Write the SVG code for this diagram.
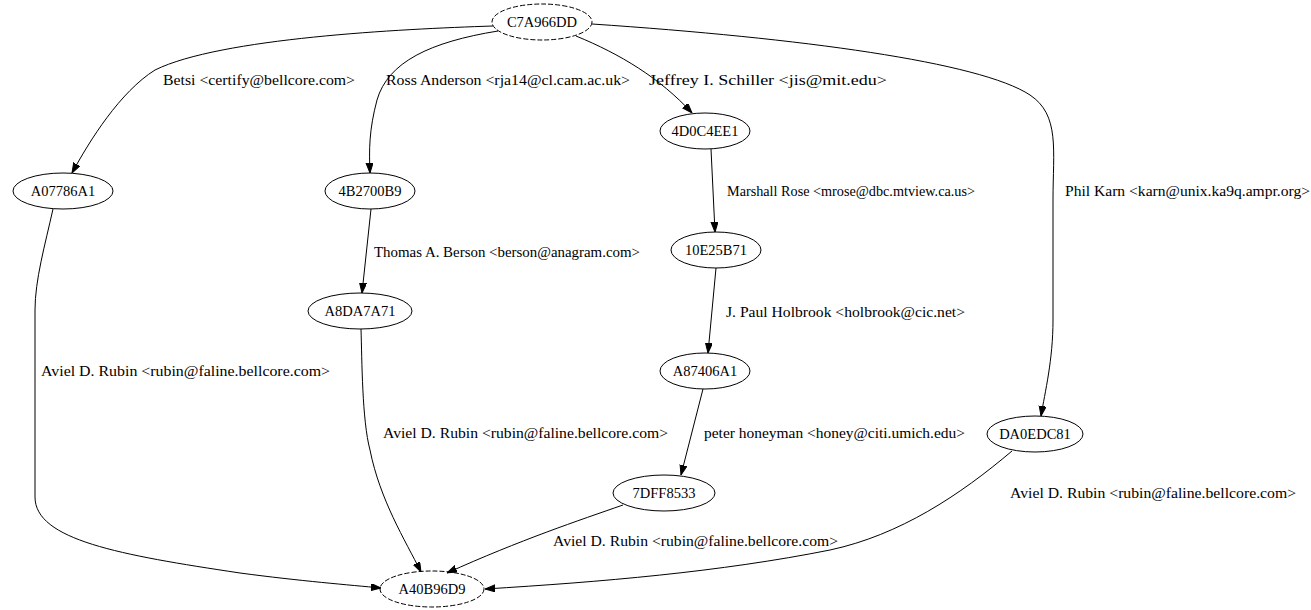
<svg xmlns="http://www.w3.org/2000/svg" width="1311" height="610" viewBox="0 0 1311 610" font-family="'Liberation Serif', 'Times New Roman', serif">
<style>
.n ellipse{fill:none;stroke:#000;stroke-width:1}
.d ellipse{stroke-dasharray:5,2}
text{font-family:'Liberation Serif','Times New Roman',serif;font-size:14.5px;fill:#000}
.n text{text-anchor:middle}
.e path{fill:none;stroke:#000;stroke-width:1;marker-end:url(#ah)}
</style>
<defs>
<marker id="ah" markerUnits="userSpaceOnUse" markerWidth="10" markerHeight="8" refX="10" refY="3.5" orient="auto">
<path d="M0,0 L10,3.5 L0,7 z" fill="#000" stroke="#000" stroke-width="1"/>
</marker>
</defs>
<rect width="1311" height="610" fill="#fff"/>
<g id="edges" class="e">
<path d="M493,26 C400,29 220,38 155,70 C120,92 90,140 72,173"/>
<path d="M498,31 C430,42 388,62 377,100 C369,130 369,150 370,173"/>
<path d="M576,36 C620,54 660,78 692,113"/>
<path d="M592,24 C800,38 980,62 1030,95 C1060,115 1053,150 1053,200 L1053,320 C1053,360 1045,392 1041,416"/>
<path d="M711,149 L715,232"/>
<path d="M371,209 L362,293"/>
<path d="M716,268 L708,353"/>
<path d="M703,389 L681,475"/>
<path d="M53,209 C45,245 35,280 35,310 L35,497 C35,540 120,555 240,573 C300,581 350,585 381,588"/>
<path d="M361,329 C362,360 362,420 370,450 C380,500 405,540 421,572"/>
<path d="M623,505 C580,520 520,540 447,573"/>
<path d="M1012,451 C960,495 900,535 830,550 C720,572 600,582 485,589"/>
</g>
<g id="labels">
<text x="163" y="85" textLength="192" lengthAdjust="spacingAndGlyphs">Betsi &lt;certify@bellcore.com&gt;</text>
<text x="386" y="85" textLength="244" lengthAdjust="spacingAndGlyphs">Ross Anderson &lt;rja14@cl.cam.ac.uk&gt;</text>
<text x="649" y="85" textLength="238" lengthAdjust="spacingAndGlyphs">Jeffrey I. Schiller &lt;jis@mit.edu&gt;</text>
<text x="1065" y="196" textLength="245" lengthAdjust="spacingAndGlyphs">Phil Karn &lt;karn@unix.ka9q.ampr.org&gt;</text>
<text x="727" y="196" textLength="248" lengthAdjust="spacingAndGlyphs">Marshall Rose &lt;mrose@dbc.mtview.ca.us&gt;</text>
<text x="374" y="257" textLength="266" lengthAdjust="spacingAndGlyphs">Thomas A. Berson &lt;berson@anagram.com&gt;</text>
<text x="726" y="317" textLength="239" lengthAdjust="spacingAndGlyphs">J. Paul Holbrook &lt;holbrook@cic.net&gt;</text>
<text x="41" y="376" textLength="289" lengthAdjust="spacingAndGlyphs">Aviel D. Rubin &lt;rubin@faline.bellcore.com&gt;</text>
<text x="383" y="438" textLength="285" lengthAdjust="spacingAndGlyphs">Aviel D. Rubin &lt;rubin@faline.bellcore.com&gt;</text>
<text x="704" y="438" textLength="261" lengthAdjust="spacingAndGlyphs">peter honeyman &lt;honey@citi.umich.edu&gt;</text>
<text x="1010" y="498" textLength="286" lengthAdjust="spacingAndGlyphs">Aviel D. Rubin &lt;rubin@faline.bellcore.com&gt;</text>
<text x="553" y="546" textLength="285" lengthAdjust="spacingAndGlyphs">Aviel D. Rubin &lt;rubin@faline.bellcore.com&gt;</text>
</g>
<g id="C7A966DD" class="n d"><ellipse cx="542" cy="22" rx="50" ry="18"/><text x="542" y="27">C7A966DD</text></g>
<g id="A07786A1" class="n"><ellipse cx="63" cy="191" rx="50" ry="18"/><text x="63" y="196">A07786A1</text></g>
<g id="4B2700B9" class="n"><ellipse cx="370" cy="191" rx="45" ry="18"/><text x="370" y="196">4B2700B9</text></g>
<g id="4D0C4EE1" class="n"><ellipse cx="705" cy="131" rx="45" ry="18"/><text x="705" y="136">4D0C4EE1</text></g>
<g id="10E25B71" class="n"><ellipse cx="716" cy="250" rx="45" ry="18"/><text x="716" y="255">10E25B71</text></g>
<g id="A8DA7A71" class="n"><ellipse cx="360" cy="311" rx="52" ry="18"/><text x="360" y="316">A8DA7A71</text></g>
<g id="A87406A1" class="n"><ellipse cx="705" cy="371" rx="45" ry="18"/><text x="705" y="376">A87406A1</text></g>
<g id="DA0EDC81" class="n"><ellipse cx="1035" cy="434" rx="48" ry="18"/><text x="1035" y="439">DA0EDC81</text></g>
<g id="7DFF8533" class="n"><ellipse cx="664" cy="493" rx="51" ry="18"/><text x="664" y="498">7DFF8533</text></g>
<g id="A40B96D9" class="n d"><ellipse cx="432" cy="589" rx="52" ry="18"/><text x="432" y="594">A40B96D9</text></g>
</svg>
